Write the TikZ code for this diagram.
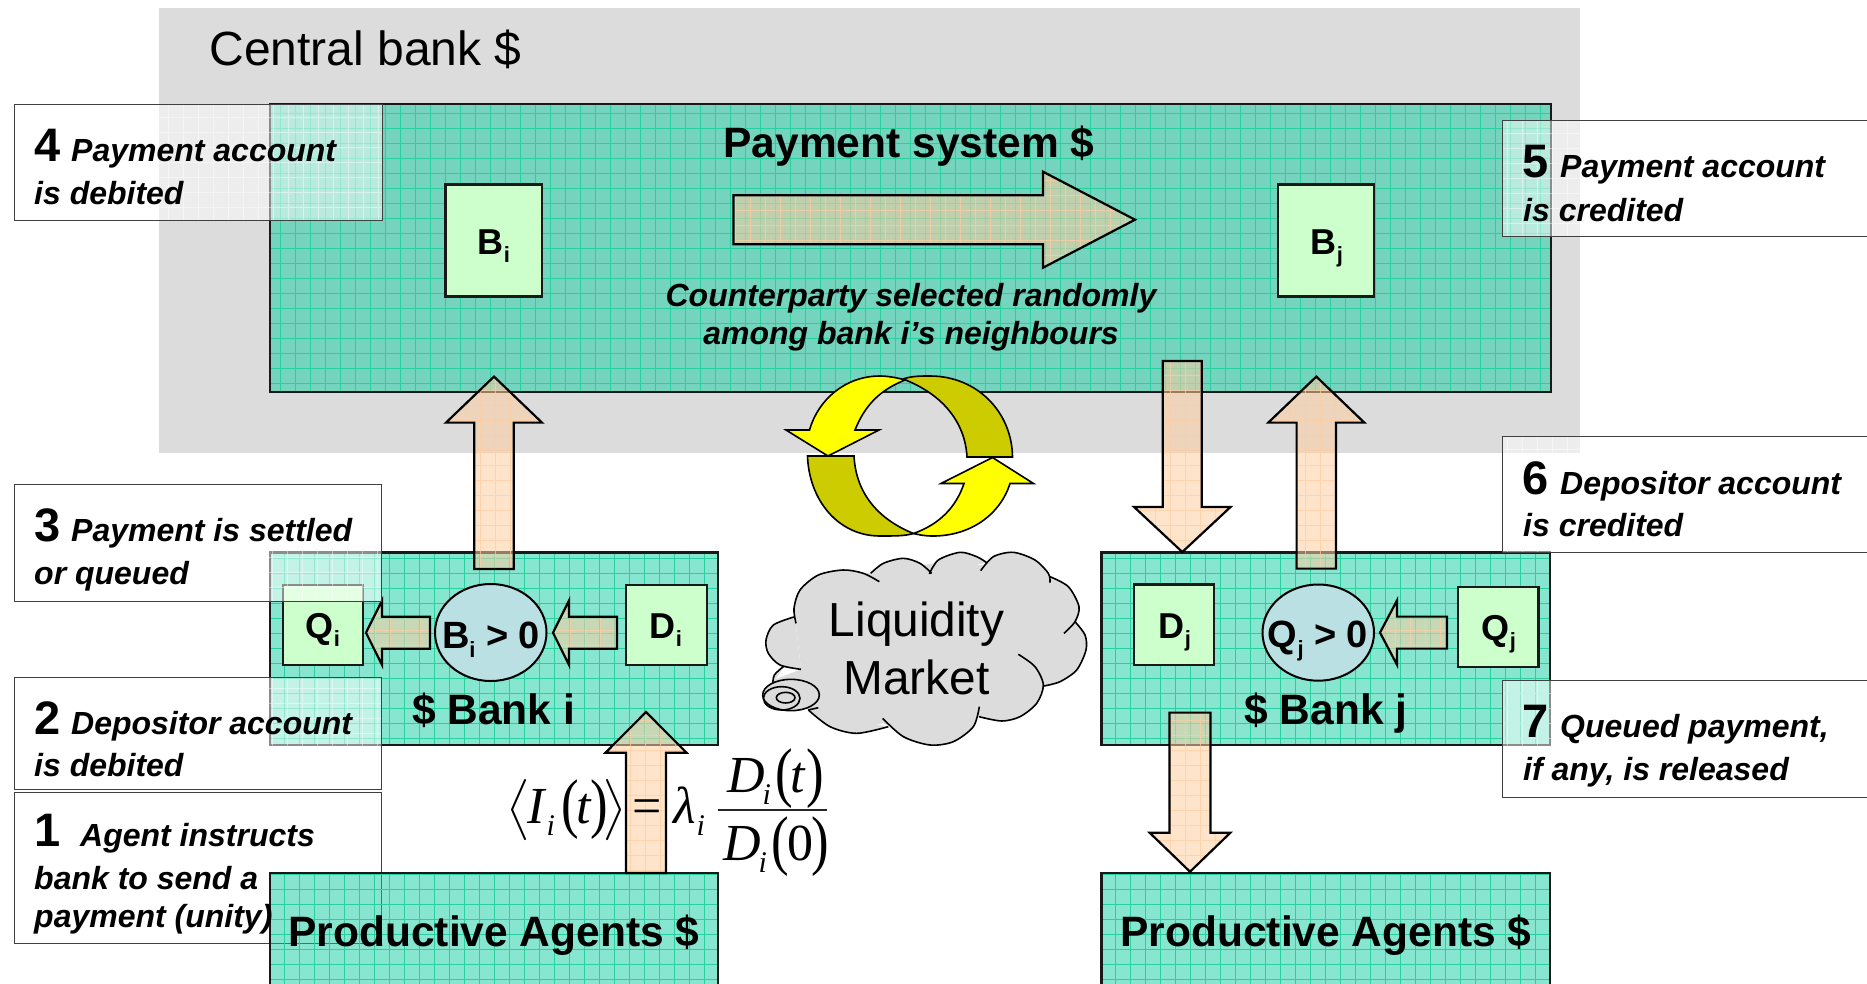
\documentclass[tikz,border=0pt]{standalone}
\usepackage[no-math]{fontspec}
\usepackage{amsmath,graphicx}
\setmainfont{Liberation Sans}
\newfontfamily\serf{Liberation Serif}
\usetikzlibrary{calc,shapes.geometric}
\definecolor{greenbase}{RGB}{15,205,159}
\definecolor{gridgreen}{RGB}{40,208,160}
\definecolor{peach}{RGB}{255,206,162}
\definecolor{gridpeach}{RGB}{255,205,160}
\definecolor{lightgreen}{RGB}{204,255,204}
\definecolor{lightblue}{RGB}{187,224,227}
\definecolor{cbgray}{RGB}{220,220,220}
\definecolor{oliveyellow}{RGB}{204,204,0}
\definecolor{pureyellow}{RGB}{255,255,0}
\newcommand\szhuge{\fontsize{47.8}{52}\selectfont}
\newcommand\szbig{\fontsize{42.5}{48}\selectfont\bfseries}
\newcommand\szlab{\fontsize{36}{40}\selectfont\bfseries}
\newcommand\szcond{\fontsize{38}{40}\selectfont\bfseries}
\newcommand\szstep{\fontsize{32}{38}\selectfont\bfseries\itshape}
\newcommand\subx[1]{\raisebox{-0.24em}{\fontsize{22}{22}\selectfont #1}}
\newcommand\stepnum[2]{\makebox[#2][l]{\fontsize{47}{50}\selectfont\bfseries\upshape #1}}
% formula helpers: place a piece at an x offset inside one node
\newcommand\fpl[2]{\rlap{\hspace{#1pt}#2}}
\newcommand\fparen[1]{\raisebox{-2pt}{\scalebox{.8}[1]{\fontsize{66}{66}\selectfont\upshape #1}}}
\newcommand\fsub[1]{\raisebox{-12pt}{\fontsize{30}{30}\selectfont\itshape #1}}
\newcommand\fangle[1]{\scalebox{5.1}{\normalsize$#1$}}
\newcommand\pxbox[7][]{%
  \pgfmathsetmacro\pxcx{(#4+#6)/2}\pgfmathsetmacro\pxcy{(#5+#7)/2}%
  \pgfmathsetmacro\pxw{#6-#4}\pgfmathsetmacro\pxh{#7-#5}%
  \node[#1,#3,minimum width=\pxw pt,minimum height=\pxh pt,inner sep=0pt,outer sep=0pt] (#2) at (\pxcx,\pxcy) {};}
\newcommand\blockarrow[5]{%
  \coordinate (ab) at ($(#2)!#5!(#1)$);
  \path[blockarrowstyle] ($(#1)!#3!90:(#2)$) -- ($(ab)!#3!90:(#2)$) -- ($(ab)!#4!90:(#2)$) -- (#2)
    -- ($(ab)!#4!-90:(#2)$) -- ($(ab)!#3!-90:(#2)$) -- ($(#1)!#3!-90:(#2)$) -- cycle;}
\newcommand\cloudlobes{
  plot[smooth] coordinates {(168,790)(162,745)(180,690)(235,645)(310,630)(370,640)(418,665)}
  plot[smooth] coordinates {(392,640)(430,610)(490,595)(540,610)(575,640)}
  plot[smooth] coordinates {(568,642)(595,600)(660,577)(710,590)(740,608)}
  plot[smooth] coordinates {(722,632)(760,590)(820,577)(885,600)(925,640)(930,668)}
  plot[smooth] coordinates {(930,650)(985,680)(1017,740)(1005,785)(972,820)}
  plot[smooth] coordinates {(1005,785)(1035,825)(1038,870)(1010,930)(960,965)(912,978)}
  plot[smooth] coordinates {(835,883)(885,920)(910,975)(890,1030)(840,1070)(785,1083)(717,1070)}
  plot[smooth] coordinates {(718,1040)(700,1100)(640,1145)(570,1155)(490,1130)(428,1075)}
  plot[smooth] coordinates {(445,1100)(350,1120)(270,1100)(205,1050)}
  plot[smooth] coordinates {(130,920)(103,945)(98,975)}
  plot[smooth] coordinates {(183,928)(120,915)(85,880)(78,840)(100,795)(165,770)}
}
\tikzset{
  greenbox/.style={draw=black!90,line width=2.4pt,fill=greenbase,fill opacity=.5,
    path picture={\draw[gridgreen,line width=.7pt] (path picture bounding box.south west) grid[step=15pt] (path picture bounding box.north east);}},
  innerbox/.style={draw=black!90,line width=2.2pt,fill=lightgreen},
  stepbox/.style={draw=black!75,line width=.9pt,fill=white,fill opacity=.5,
    path picture={\draw[white,draw opacity=.45,line width=.8pt] (path picture bounding box.south west) grid[step=15pt] (path picture bounding box.north east);}},
  blockarrowstyle/.style={draw=black,line width=2.2pt,line join=miter,fill=peach,fill opacity=.55,
    path picture={\draw[gridpeach,draw opacity=.7,line width=.7pt] (path picture bounding box.south west) grid[step=15pt] (path picture bounding box.north east);}},
  testcond/.style={ellipse,draw=black,line width=2pt,fill=lightblue,inner sep=0pt,outer sep=0pt},
  stepline/.style={anchor=base west,inner sep=0pt,font=\szstep},
  lab/.style={anchor=base,inner sep=0pt,font=\szlab},
  condlab/.style={anchor=base,inner sep=0pt,font=\szcond},
  biglab/.style={anchor=base,inner sep=0pt,font=\szbig},
  turnarrow/.style={draw=black,line width=1.6pt,line join=miter},
  formulapart/.style={anchor=base west,inner sep=0pt,font=\serf\itshape\fontsize{52}{60}\selectfont},
}
\begin{document}
\begin{tikzpicture}[x=1pt,y=-1pt]
\useasboundingbox (0,0) rectangle (1867,983);
\pxbox{cb}{fill=cbgray}{159}{8}{1580}{453}
\node[anchor=base,inner sep=0pt,font=\fontsize{48}{52}\selectfont] (cbT) at (365.5,65) {Central bank \$};
\pxbox{pay}{greenbox}{270}{104}{1551}{392}
\node[biglab] (payT) at (909,157) {Payment system \$};
\pxbox{Bi}{innerbox}{445.5}{184.5}{542}{296.5}
\node[lab] (BiT) at (494,254) {B\subx{i}};
\pxbox{Bj}{innerbox}{1278}{184.5}{1374}{296.5}
\node[lab] (BjT) at (1327,254) {B\subx{j}};
\node[anchor=base,inner sep=0pt,font=\szstep] (cp1) at (911,306) {Counterparty selected randomly};
\node[anchor=base,inner sep=0pt,font=\szstep] (cp2) at (911,344) {among bank i’s neighbours};
% step 1 lies beneath the agents box
\pxbox{s1}{stepbox}{14}{792}{381}{943}
\pxbox{banki}{greenbox}{270}{552.5}{718}{745}
\pxbox{bankj}{greenbox}{1101.5}{552.5}{1550}{745}
\pxbox{prodi}{greenbox}{270}{873}{718}{995}
\pxbox{prodj}{greenbox}{1101.5}{873}{1550}{995}
\node[biglab] (prodiT) at (494,946) {Productive Agents \$};
\node[biglab] (prodjT) at (1326,946) {Productive Agents \$};
\node[biglab] (bankiT) at (493.5,724) {\$ Bank i};
\node[biglab] (bankjT) at (1326,724) {\$ Bank j};
\pxbox{Qi}{innerbox}{283}{585}{363}{665}
\node[lab] (QiT) at (323,638) {Q\subx{i}};
\pxbox{Di}{innerbox}{626}{585}{707}{665}
\node[lab] (DiT) at (666,638) {D\subx{i}};
\pxbox{Dj}{innerbox}{1134}{584.5}{1214}{665}
\node[lab] (DjT) at (1175,638) {D\subx{j}};
\pxbox{Qj}{innerbox}{1458}{587}{1538.5}{667}
\node[lab] (QjT) at (1499,640) {Q\subx{j}};
\pxbox{ci}{testcond}{435}{584}{546.5}{681}
\node[condlab] (ciT) at (491,648) {B\subx{i} > 0};
\pxbox{cj}{testcond}{1262.5}{584.5}{1374}{680.7}
\node[condlab] (cjT) at (1318,647) {Q\subx{j} > 0};
% flows
\coordinate (aPs) at (733.5,219.7); \coordinate (aPt) at (1135,219.7);
\blockarrow{aPs}{aPt}{24.5pt}{48pt}{92pt}
\coordinate (a3s) at (494,569); \coordinate (a3t) at (494,376.6);
\blockarrow{a3s}{a3t}{19.7pt}{48pt}{46pt}
\coordinate (a1s) at (646,873); \coordinate (a1t) at (646,712);
\blockarrow{a1s}{a1t}{20pt}{40.5pt}{40.7pt}
\coordinate (a2s) at (617,632.7); \coordinate (a2t) at (553,632.7);
\blockarrow{a2s}{a2t}{16pt}{32.2pt}{16pt}
\coordinate (a2bs) at (430,632.7); \coordinate (a2bt) at (366,632.7);
\blockarrow{a2bs}{a2bt}{16pt}{32.2pt}{16pt}
\coordinate (a6s) at (1316.3,568.6); \coordinate (a6t) at (1316.3,376.6);
\blockarrow{a6s}{a6t}{19.7pt}{48pt}{46pt}
\coordinate (a5s) at (1182.3,361); \coordinate (a5t) at (1182.3,552);
\blockarrow{a5s}{a5t}{19.5pt}{48.2pt}{45pt}
\coordinate (a7s) at (1190,712.6); \coordinate (a7t) at (1190,871.7);
\blockarrow{a7s}{a7t}{20.5pt}{40.4pt}{39pt}
\coordinate (a8s) at (1447,632.6); \coordinate (a8t) at (1380,632.6);
\blockarrow{a8s}{a8t}{16pt}{32.2pt}{17pt}
% circulating arrows
\filldraw[turnarrow,fill=oliveyellow] (903,379) .. controls (912,376) and (920,376) .. (930,376)
  .. controls (977,376) and (1012,412) .. (1012.5,457) -- (967,457) .. controls (965,420) and (940,393) .. (903,379) -- cycle;
\filldraw[turnarrow,fill=pureyellow] (828,456) -- (879,430) -- (855,430) .. controls (865,405) and (880,390) .. (905,380)
  .. controls (895,377) and (885,376) .. (880,376) .. controls (845,376) and (818,400) .. (809.5,430) -- (786,430) -- cycle;
\filldraw[turnarrow,fill=oliveyellow] (807.5,456) -- (854,456) .. controls (856,495) and (880,520) .. (913.5,533.5)
  .. controls (905,536) and (895,536) .. (880,536) .. controls (838,536) and (809,500) .. (807.5,456) -- cycle;
\filldraw[turnarrow,fill=pureyellow] (992.5,457.5) -- (1033.5,483.5) -- (1010,483.5) .. controls (1000,515) and (970,536) .. (933,536)
  .. controls (925,536) and (920,535) .. (913.5,533.5) .. controls (940,524) and (956,507) .. (964,483.5) -- (941,483.5) -- cycle;
% cloud
\begin{scope}[shift={(740,360)},scale=1/3]
  \fill[cbgray] (165,770) -- (310,650) -- (650,600) -- (930,660) -- (1000,800) -- (912,978) -- (785,1075) -- (717,1070) -- (570,1140) -- (428,1090) -- (350,1105) -- (205,1050) -- (100,960) -- (183,928) -- cycle;
  \fill[cbgray] \cloudlobes;
  \draw[black,line width=1.6pt] \cloudlobes;
  \draw[black,line width=1.6pt] (205,1050) -- (235,1043);
  \filldraw[fill=cbgray,draw=black,line width=1.6pt] (153,1005) ellipse [x radius=85,y radius=47];
  \draw[black,line width=1.6pt] (125,1015) ellipse [x radius=55,y radius=35];
  \draw[black,line width=1.6pt] (137,1013) ellipse [x radius=28,y radius=16];
\end{scope}
\node[anchor=base,inner sep=0pt,font=\szhuge] (lm1) at (916.5,636) {Liquidity};
\node[anchor=base,inner sep=0pt,font=\szhuge] (lm2) at (916.5,694) {Market};
% steps
\pxbox{s4}{stepbox}{14}{104}{382}{220}
\pxbox{s3}{stepbox}{14}{484}{381}{601}
\pxbox{s2}{stepbox}{14}{677}{381}{789}
\pxbox{s5}{stepbox}{1502}{120}{1872}{236.5}
\pxbox{s6}{stepbox}{1502}{436.5}{1872}{552.5}
\pxbox{s7}{stepbox}{1502}{680.7}{1872}{797}
\node[stepline] (s4a) at (34,161) {\stepnum{4}{37pt}Payment account};
\node[stepline] (s4b) at (34,204) {is debited};
\node[stepline] (s3a) at (34,541) {\stepnum{3}{37pt}Payment is settled};
\node[stepline] (s3b) at (34,584) {or queued};
\node[stepline] (s2a) at (34,734) {\stepnum{2}{37pt}Depositor account};
\node[stepline] (s2b) at (34,776.5) {is debited};
\node[stepline] (s1a) at (34,846) {\stepnum{1}{46pt}Agent instructs};
\node[stepline] (s1b) at (34,889) {bank to send a};
\node[stepline] (s1c) at (34,927) {payment (unity)};
\node[stepline] (s5a) at (1522,177) {\stepnum{5}{38pt}Payment account};
\node[stepline] (s5b) at (1523,221.5) {is credited};
\node[stepline] (s6a) at (1522,494.5) {\stepnum{6}{38pt}Depositor account};
\node[stepline] (s6b) at (1523,536) {is credited};
\node[stepline] (s7a) at (1522,737) {\stepnum{7}{38pt}Queued payment,};
\node[stepline] (s7b) at (1523,780) {if any, is released};
% formula
\node[formulapart] (fLhs) at (500,823) {%
  \fpl{6}{\fangle{\bigl\langle}}\fpl{27}{I}\fpl{46}{\fsub{i}}%
  \fpl{61}{\fparen{(}}\fpl{76}{t}\fpl{90}{\fparen{)}}\fpl{102}{\fangle{\bigr\rangle}}%
  \fpl{132}{\upshape =}\fpl{173}{λ}\fpl{196}{\fsub{i}}};
\node[formulapart] (fNum) at (720,792) {%
  \fpl{7}{D}\fpl{42}{\fsub{i}}\fpl{55}{\fparen{(}}\fpl{70}{t}\fpl{86}{\fparen{)}}};
\node[formulapart] (fDen) at (720,860) {%
  \fpl{3}{D}\fpl{38}{\fsub{i}}\fpl{51}{\fparen{(}}\fpl{67}{\upshape 0}\fpl{91}{\fparen{)}}};
\coordinate (fbarL) at (718,810); \coordinate (fbarR) at (827,810);
\draw[black!85,line width=1.6pt] (fbarL) -- (fbarR);
\end{tikzpicture}
\end{document}
